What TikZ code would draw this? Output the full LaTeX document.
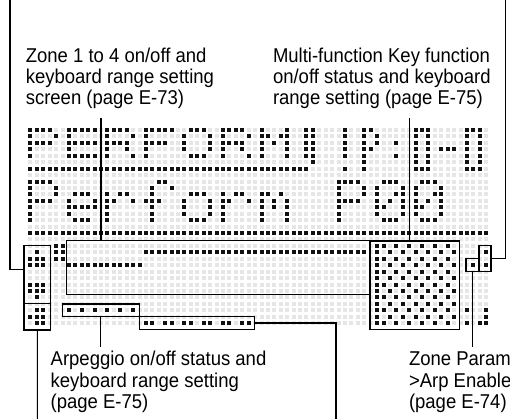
\documentclass[tikz,border=0pt]{standalone}
\usepackage{fontspec}
\setmainfont{Liberation Sans}[FakeStretch=0.925]
\usetikzlibrary{fit}
\definecolor{dotdark}{HTML}{111111}
\definecolor{dotlight}{HTML}{E6E6E6}
\newcount\dcol
\def\drowr{0}
% \drow{row}{first column}{pattern of 0/1}
\newcommand\drow[3]{\def\drowr{#1}\global\dcol=#2\relax\drowparse#3\relax}
\def\drowparse#1{\ifx#1\relax\else\if1#1\fill[dotdark] ({\the\dcol*6.42+30.4},{\drowr*6.44+130}) +(-2,-2) rectangle +(2,2);\fi\global\advance\dcol by 1\relax\expandafter\drowparse\fi}
\tikzset{
  lbl/.style={anchor=base west, inner sep=0pt, font=\fontsize{20}{21}\selectfont, text=black},
  box/.style={draw=black, line width=1.1pt, inner sep=0pt},
  lead/.style={draw=black, line width=1.1pt},
}
\begin{document}
\begin{tikzpicture}[x=1pt,y=-1pt]
\useasboundingbox (0,0) rectangle (510,419);
\fill[white] (0,0) rectangle (510,419);
% background dot grid
\foreach \r in {0,...,30}{\foreach \c in {0,...,71}{\fill[dotlight] ({\c*6.42+30.4},{\r*6.44+130}) +(-2,-2) rectangle +(2,2);}}
% ---- line 1 : PERFORM (5x5) with bar
\drow{0}{0}{11110 0 11111 0 11110 0 11111 0 01110 0 11110 0 10001 0 0 11}
\drow{1}{0}{10001 0 10000 0 10001 0 10000 0 10001 0 10001 0 11011 0 0 11}
\drow{2}{0}{11110 0 11111 0 11110 0 11110 0 10001 0 11110 0 10101 0 0 11}
\drow{3}{0}{10000 0 10000 0 10010 0 10000 0 10001 0 10010 0 10001 0 0 11}
\drow{4}{0}{10000 0 11111 0 10001 0 10000 0 01110 0 10001 0 10001 0 0 11}
\drow{5}{44}{1}
\drow{6}{0}{11111 11111 11111 11111 11111 11111 11111 11111 1111}
% right part of line 1 (cols 49-70)
\drow{0}{49}{1001100000011100000111}
\drow{1}{49}{1001010000010100000101}
\drow{2}{49}{1001010010010100000101}
\drow{3}{49}{1001100000010101110101}
\drow{4}{49}{1001000010010100000101}
\drow{5}{49}{0001000000010100000101}
\drow{6}{49}{1001000000011100000111}
% ---- line 2 : Perform P00 (5x7)
\drow{8}{0}{11110 0 00000 0 00000 0 00110 0 00000 0 00000 0 00000}
\drow{9}{0}{10001 0 00000 0 00000 0 01001 0 00000 0 00000 0 00000}
\drow{10}{0}{10001 0 01110 0 10110 0 01000 0 01110 0 10110 0 11010}
\drow{11}{0}{11110 0 10001 0 11001 0 11100 0 10001 0 11001 0 10101}
\drow{12}{0}{10000 0 11111 0 10000 0 01000 0 10001 0 10000 0 10101}
\drow{13}{0}{10000 0 10000 0 10000 0 01000 0 10001 0 10000 0 10001}
\drow{14}{0}{10000 0 01110 0 10000 0 01000 0 01110 0 10000 0 10001}
\drow{8}{48}{11110 0 01110 0 01110}
\drow{9}{48}{10001 0 10001 0 10001}
\drow{10}{48}{10001 0 10011 0 10011}
\drow{11}{48}{11110 0 10101 0 10101}
\drow{12}{48}{10000 0 11001 0 11001}
\drow{13}{48}{10000 0 10001 0 10001}
\drow{14}{48}{10000 0 01110 0 01110}
% separator row
\drow{16}{0}{11111 11111 11111 11111 11111 11111 11111 11111 11111 11111 11111 11111 11111 11111 11}
% ---- lower area
\drow{19}{0}{010}
\drow{20}{0}{111}
\drow{21}{0}{111}
\drow{24}{0}{111}
\drow{25}{0}{111}
\drow{26}{0}{010}
\drow{28}{0}{011}
\drow{29}{0}{111}
\drow{30}{0}{011}
\drow{18}{4}{11}
\drow{19}{4}{11}
\drow{20}{4}{11}
\drow{19}{18}{11111 11111 11111 11111 11111 11111 11111}
\drow{21}{6}{11111 11111 11}
\drow{28}{6}{10101010101}
\drow{30}{18}{11011011011011011}
\foreach \r in {18,20,...,30}{\drow{\r}{54}{1101010101010}}
\foreach \r in {19,21,...,29}{\drow{\r}{54}{1010101010101}}
\drow{19}{71}{1}
\drow{21}{69}{101}
\drow{28}{68}{1001}
\drow{29}{71}{1}
\drow{30}{68}{1011}
% ---- boxes
\node[box, fit={(24,245.7) (50.7,303.3)}] (zl) {};
\node[box, fit={(24,303.3) (50.7,330)}] (zl2) {};
\node[box, fit={(66.7,240.7) (370,294.3)}] (mid) {};
\node[box, fit={(370,241) (459.7,329.3)}] (chk) {};
\node[box, fit={(62.3,304) (139.3,316.7)}] (arp) {};
\node[box, fit={(139.3,316.7) (254.3,329.3)}] (arp2) {};
\node[box, fit={(479,245.3) (491,271.8)}] (ba) {};
\node[box, fit={(466,258.7) (479,271.8)}] (bb) {};
% ---- labels
\node[lbl] (z1) at (25.6,62.3) {Zone 1 to 4 on/off and};
\node[lbl] (z2) at (25.6,83.5) {keyboard range setting};
\node[lbl] (z3) at (25.6,104.5) {screen (page E-73)};
\node[lbl] (m1) at (272.8,62.3) {Multi-function Key function};
\node[lbl] (m2) at (272.8,83.5) {on/off status and keyboard};
\node[lbl] (m3) at (272.8,104.5) {range setting (page E-75)};
\node[lbl] (p1) at (50.5,365.7) {Arpeggio on/off status and};
\node[lbl] (p2) at (50.5,387) {keyboard range setting};
\node[lbl] (p3) at (50.5,408.2) {(page E-75)};
\node[lbl] (q1) at (408.8,365.7) {Zone Param};
\node[lbl] (q2) at (408.8,387) {>Arp Enable};
\node[lbl] (q3) at (408.8,408.2) {(page E-74)};
% ---- leader lines
\coordinate (a1) at (10,0);
\coordinate (k1) at (24,269.3);
\draw[lead] (a1) |- (k1);
\coordinate (a2) at (37.35,419);
\draw[lead] (zl2.south) -- (a2);
\coordinate (a3) at (101,118);
\draw[lead] (a3) -- (a3 |- mid.north);
\coordinate (a4) at (409.3,118);
\draw[lead] (a4) -- (a4 |- chk.north);
\coordinate (a5) at (100.8,346.7);
\draw[lead] (arp.south) -- (a5);
\coordinate (a6) at (336,419);
\draw[lead] (arp2.east) -| (a6);
\coordinate (a7) at (472.5,346.7);
\draw[lead] (bb.south) -- (a7);
\coordinate (a8) at (505.5,0);
\draw[lead] (a8) |- (ba.east);
\end{tikzpicture}
\end{document}
